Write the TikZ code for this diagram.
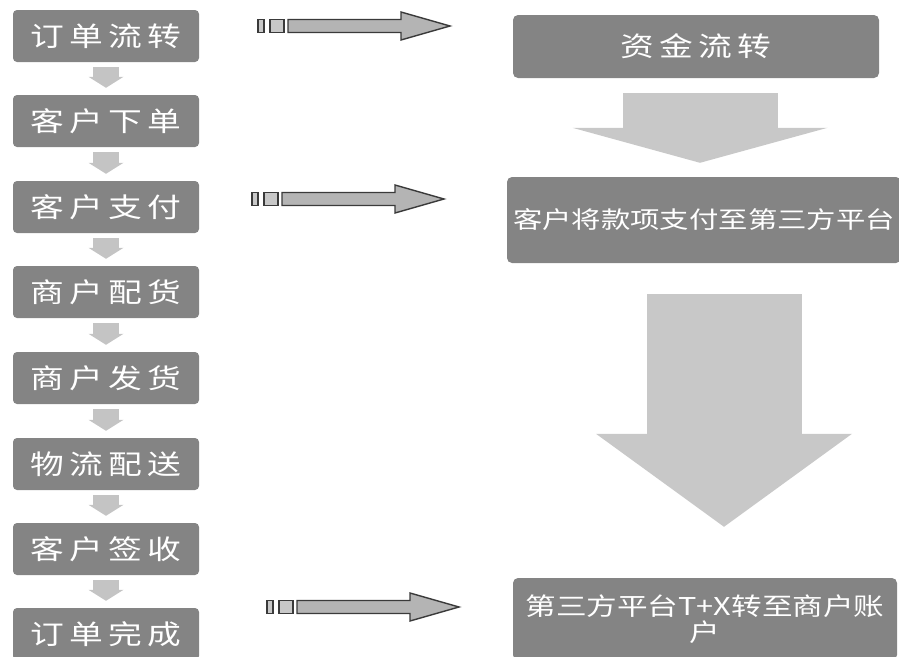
\documentclass[tikz,border=0pt]{standalone}
\usepackage{fontspec}
\usetikzlibrary{arrows.meta, positioning}
\newfontfamily\cjk{Noto Sans CJK SC}[FakeStretch=1.25]
\newfontfamily\cjkwide{Noto Sans CJK SC}[FakeStretch=1.25, LetterSpace=20]

\definecolor{boxgray}{HTML}{848484}
\definecolor{stepgray}{HTML}{C4C4C4}
\definecolor{biggray}{HTML}{C8C8C8}
\definecolor{pointgray}{HTML}{B4B4B4}
\definecolor{pointline}{HTML}{3A3A3A}

\tikzset{
  stage/.style={fill=boxgray, rounded corners=4pt, text=white, inner sep=0pt,
    minimum width=186pt, minimum height=52pt, font=\cjkwide\fontsize{27}{30}\selectfont},
  fund/.style={fill=boxgray, rounded corners=5pt, text=white, inner sep=0pt, align=center},
  downstep/.style={draw=stepgray, line width=26pt, shorten <=5pt, shorten >=7pt,
    -{Triangle[width=35pt, length=11pt, line width=0pt]}},
  bigdown/.style={draw=biggray, line width=155pt},
  pointbox/.style={draw=pointline, fill=pointgray, line width=1.4pt, line join=miter},
  pics/pointer/.style={code={
    \draw[pointbox, fill=biggray] (0,-6.5) rectangle (6,6.5);
    \draw[pointbox, fill=biggray] (12,-6.5) rectangle (26,6.5);
    \draw[pointbox] (30,-6.5) -- (143,-6.5) -- (143,-14) -- (192,0)
      -- (143,14) -- (143,6.5) -- (30,6.5) -- cycle;
  }}
}

\begin{document}
\begin{tikzpicture}[x=1pt, y=-1pt]
  \useasboundingbox (0,0) rectangle (899,656);
  \clip (0,0) rectangle (899,656);

  % order flow
  \node[stage] (order) at (106, 36) {订单流转};
  \node[stage] (place) at (106, 121) {客户下单};
  \node[stage] (pay) at (106, 207) {客户支付};
  \node[stage] (pick) at (106, 292) {商户配货};
  \node[stage] (ship) at (106, 378) {商户发货};
  \node[stage] (deliver) at (106, 464) {物流配送};
  \node[stage] (sign) at (106, 549) {客户签收};
  \node[stage] (done) at (106, 634) {订单完成};

  \draw[downstep] (order) -- (place);
  \draw[downstep] (place) -- (pay);
  \draw[downstep] (pay) -- (pick);
  \draw[downstep] (pick) -- (ship);
  \draw[downstep] (ship) -- (deliver);
  \draw[downstep] (deliver) -- (sign);
  \draw[downstep] (sign) -- (done);

  % fund flow
  \node[fund, minimum width=366pt, minimum height=63pt, font=\cjkwide\fontsize{27}{30}\selectfont]
    (funds) at (696, 46.5) {资金流转};
  \node[fund, minimum width=394pt, minimum height=86pt, font=\cjk\fontsize{23.5}{28}\selectfont]
    (topay) at (704, 220) {客户将款项支付至第三方平台};
  \node[fund, minimum width=384pt, minimum height=82pt, font=\cjk\fontsize{24.5}{26}\selectfont]
    (settle) at (705, 619) {第三方平台T+X转至商户账\\户};

  \draw[bigdown, shorten <=15pt, shorten >=14pt, -{Triangle[width=255pt, length=35pt, line width=0pt]}]
    ([xshift=4pt]funds.south) -- ([xshift=-4pt]topay.north);
  \draw[bigdown, shorten <=31pt, shorten >=51pt, -{Triangle[width=256pt, length=93pt, line width=0pt]}]
    ([xshift=20pt]topay.south) -- ([xshift=19pt]settle.north);

  % pointers between the two flows
  \pic at (258, 26) {pointer};
  \pic at (252, 199) {pointer};
  \pic at (267, 607) {pointer};
\end{tikzpicture}
\end{document}
